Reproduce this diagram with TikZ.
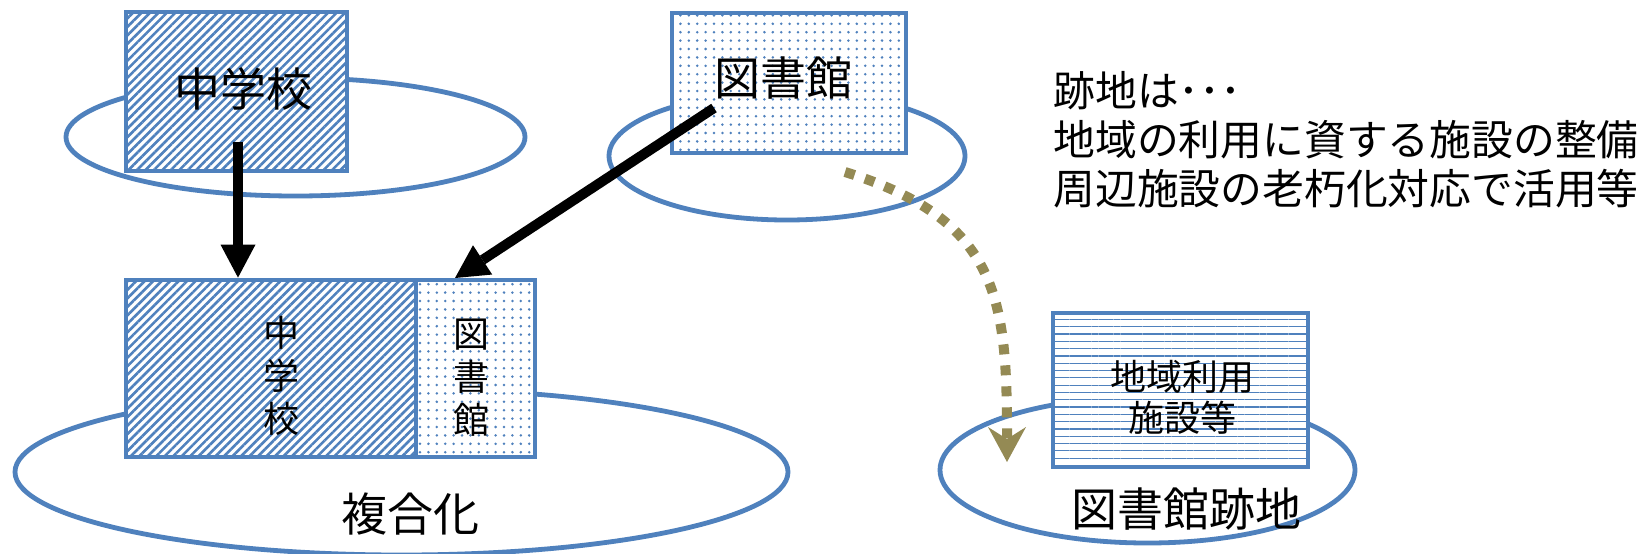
\documentclass[tikz,border=0pt]{standalone}
\usepackage{fontspec}
\setmainfont{Noto Sans CJK JP}
\usetikzlibrary{shapes.geometric,arrows.meta,patterns.meta}
\definecolor{accent}{HTML}{4F81BD}
\definecolor{olivetan}{HTML}{948A54}
\begin{document}
\begin{tikzpicture}[x=0.5pt,y=-0.5pt,
  outline/.style={draw=accent,line width=2.4pt},
  oval/.style={outline,ellipse,inner sep=0pt},
  boxbase/.style={outline,rectangle,inner sep=0pt,preaction={fill=white},pattern color=accent},
  hatchbox/.style={boxbase,pattern={Lines[angle=45,distance=3pt,line width=1.3pt]}},
  dotbox/.style={boxbase,pattern={Dots[distance=4.2pt,radius=0.7pt]}},
  linebox/.style={boxbase,pattern={Lines[angle=0,distance=3.65pt,line width=0.6pt]}},
  bigtext/.style={inner sep=0pt,font=\fontsize{23pt}{27pt}\selectfont},
  midtext/.style={inner sep=0pt,align=center,font=\fontsize{18pt}{20.5pt}\selectfont},
  stacktext/.style={inner sep=0pt,align=center,font=\fontsize{18pt}{21.5pt}\selectfont},
  sidetext/.style={inner sep=0pt,anchor=west,font=\fontsize{20.9pt}{24pt}\selectfont},
  blackarrow/.style={line width=5pt,-{Triangle[length=16.5pt,width=17.5pt,line width=0pt]}},
  dotarrow/.style={draw=olivetan,line width=5pt,dash pattern=on 5pt off 5.5pt,
    -{Stealth[length=17.5pt,width=19pt,inset=6pt,line width=0pt,fill=olivetan]}}
]
\useasboundingbox (0,0) rectangle (1647,553);
\fill[white] (0,0) rectangle (1647,553);

% ellipses
\node[oval,minimum width=229.5pt,minimum height=59pt] (e1) at (295.5,137) {};
\node[oval,minimum width=178pt,minimum height=64pt] (e2) at (787,156) {};
\node[oval,minimum width=386.5pt,minimum height=83pt] (e3) at (401.5,472) {};
\node[oval,minimum width=207.5pt,minimum height=73pt] (e4) at (1147.5,470) {};

% boxes
\node[hatchbox,minimum width=110.5pt,minimum height=79.5pt] (b1) at (236.5,91.5) {};
\node[dotbox,minimum width=117pt,minimum height=70pt] (b2) at (789,83) {};
\node[hatchbox,minimum width=145pt,minimum height=88.5pt] (b3) at (271,368.5) {};
\node[dotbox,minimum width=59.5pt,minimum height=88.5pt] (b4) at (475.5,368.5) {};
\node[linebox,minimum width=127.5pt,minimum height=77pt] (b5) at (1180.5,390) {};

% texts
\node[bigtext] (t1) at (243,89) {中学校};
\node[bigtext] (t2) at (783,78) {図書館};
\node[stacktext] (t3) at (281,376) {中\\学\\校};
\node[stacktext] (t4) at (471,378) {図\\書\\館};
\node[midtext] (t5) at (1182,397) {地域利用\\施設等};
\node[bigtext] (t6) at (410,514) {複合化};
\node[bigtext] (t7) at (1186,509) {図書館跡地};
\node[sidetext] (s1) at (1053,91) {跡地は･･･};
\node[sidetext] (s2) at (1053,140) {地域の利用に資する施設の整備};
\node[sidetext] (s3) at (1053,189) {周辺施設の老朽化対応で活用等};

% connectors
\coordinate (a1s) at (238,142);
\coordinate (a2s) at (714,108);
\coordinate (a2e) at (455,278);
\coordinate (ds) at (845,172);
\coordinate (de) at (1007,462);
\draw[blackarrow] (a1s) -- (a1s |- b3.north);
\draw[blackarrow] (a2s) -- (a2e);
\draw[dotarrow] (ds) .. controls (1000,220) and (1007,300) .. (de);
\end{tikzpicture}
\end{document}
